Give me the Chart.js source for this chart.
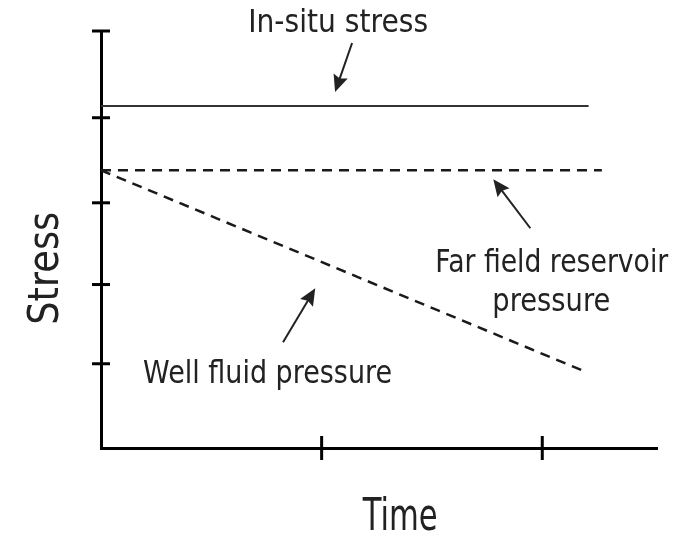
<!DOCTYPE html>
<html>
<head>
<meta charset="utf-8">
<script src="https://cdn.jsdelivr.net/npm/chart.js@4/dist/chart.umd.min.js"></script>
<style>
  html, body { margin: 0; padding: 0; background: #fff; }
  #wrap { width: 694px; height: 533px; }
</style>
</head>
<body>
<div id="wrap"><canvas id="stressChart"></canvas></div>
<script>
// schematic values, arbitrary units
const timeTicks = [1, 2];
const stressTicks = [1.01, 1.96, 2.94, 3.96, 5];

const insituX = [0, 2.21];
const insituY = [4.10, 4.10];
const farFieldX = [0, 2.27];
const farFieldY = [3.33, 3.33];
const wellX = [0, 2.20];
const wellY = [3.33, 0.91];

// callouts, anchored in data units
const noteText = ['In-situ stress', 'Far field reservoir', 'pressure', 'Well fluid pressure'];
const noteX = [1.075, 2.043, 2.041, 0.755];
const noteY = [4.988, 2.107, 1.64, 0.774];
const noteWidth = [180, 233, 118, 249];

const arrowFrom = [[1.138, 4.856], [1.946, 2.635], [0.825, 1.267]];
const arrowTo = [[1.061, 4.268], [1.778, 3.223], [0.971, 1.915]];

const INK = '#222';

const pts = (xs, ys) => xs.map((x, i) => ({ x, y: ys[i] }));

// draw text squeezed to a given width (condensed look)
function fitText(ctx, text, px, py, size, width, angle) {
  ctx.save();
  ctx.font = size + 'px "DejaVu Sans"';
  const w = ctx.measureText(text).width;
  ctx.translate(px, py);
  if (angle) ctx.rotate(angle);
  ctx.scale(width / w, 1);
  ctx.textAlign = 'center';
  ctx.textBaseline = 'alphabetic';
  ctx.fillStyle = INK;
  ctx.fillText(text, 0, 0);
  ctx.restore();
}

function arrow(ctx, x0, y0, x1, y1) {
  const a = Math.atan2(y1 - y0, x1 - x0);
  const len = 17, half = 7.5;
  const c = Math.cos(a), s = Math.sin(a);
  ctx.beginPath();
  ctx.moveTo(x0, y0);
  ctx.lineTo(x1 - c * len * 0.8, y1 - s * len * 0.8);
  ctx.stroke();
  ctx.beginPath();
  ctx.moveTo(x1, y1);
  ctx.lineTo(x1 - c * len - s * half, y1 - s * len + c * half);
  ctx.lineTo(x1 - c * len * 0.85, y1 - s * len * 0.85);
  ctx.lineTo(x1 - c * len + s * half, y1 - s * len - c * half);
  ctx.closePath();
  ctx.fill();
}

const sketch = {
  id: 'sketch',
  afterDraw(chart) {
    const { ctx, chartArea, scales: { x, y } } = chart;
    ctx.save();

    // tick marks crossing the axes
    ctx.strokeStyle = '#000';
    ctx.lineWidth = 3;
    stressTicks.forEach(v => {
      const py = y.getPixelForValue(v);
      ctx.beginPath();
      ctx.moveTo(chartArea.left - 9, py);
      ctx.lineTo(chartArea.left + 9, py);
      ctx.stroke();
    });
    timeTicks.forEach(v => {
      const px = x.getPixelForValue(v);
      ctx.beginPath();
      ctx.moveTo(px, chartArea.bottom - 12);
      ctx.lineTo(px, chartArea.bottom + 12);
      ctx.stroke();
    });

    // callout arrows
    ctx.strokeStyle = INK;
    ctx.fillStyle = INK;
    ctx.lineWidth = 2;
    arrowFrom.forEach((f, i) => {
      arrow(ctx, x.getPixelForValue(f[0]), y.getPixelForValue(f[1]),
        x.getPixelForValue(arrowTo[i][0]), y.getPixelForValue(arrowTo[i][1]));
    });

    // callout text
    noteText.forEach((t, i) => {
      fitText(ctx, t, x.getPixelForValue(noteX[i]), y.getPixelForValue(noteY[i]), 32, noteWidth[i]);
    });

    // axis titles
    fitText(ctx, 'Time', x.getPixelForValue(1.356), chartArea.bottom + 82, 45, 75);
    fitText(ctx, 'Stress', chartArea.left - 43, y.getPixelForValue(2.155), 42, 113, -Math.PI / 2);

    ctx.restore();
  }
};

const lineStyle = { pointRadius: 0, fill: false, tension: 0 };

new Chart(document.getElementById('stressChart'), {
  type: 'scatter',
  data: {
    datasets: [
      { label: 'In-situ stress', data: pts(insituX, insituY), showLine: true, borderColor: '#333', borderWidth: 2, ...lineStyle },
      { label: 'Far field reservoir pressure', data: pts(farFieldX, farFieldY), showLine: true, borderColor: '#1a1a1a', borderWidth: 2.5, borderDash: [10, 7], ...lineStyle },
      { label: 'Well fluid pressure', data: pts(wellX, wellY), showLine: true, borderColor: '#1a1a1a', borderWidth: 2.5, borderDash: [10, 7], ...lineStyle }
    ]
  },
  options: {
    responsive: true,
    maintainAspectRatio: false,
    animation: false,
    layout: { padding: { left: 101, right: 37, top: 31, bottom: 85 } },
    plugins: { legend: { display: false }, tooltip: { enabled: false } },
    scales: {
      x: {
        type: 'linear', min: 0, max: 2.52,
        ticks: { display: false },
        grid: { display: false, drawTicks: false },
        border: { display: true, color: '#000', width: 3 }
      },
      y: {
        type: 'linear', min: 0, max: 5,
        ticks: { display: false },
        grid: { display: false, drawTicks: false },
        border: { display: true, color: '#000', width: 3 }
      }
    }
  },
  plugins: [sketch]
});
</script>
</body>
</html>
